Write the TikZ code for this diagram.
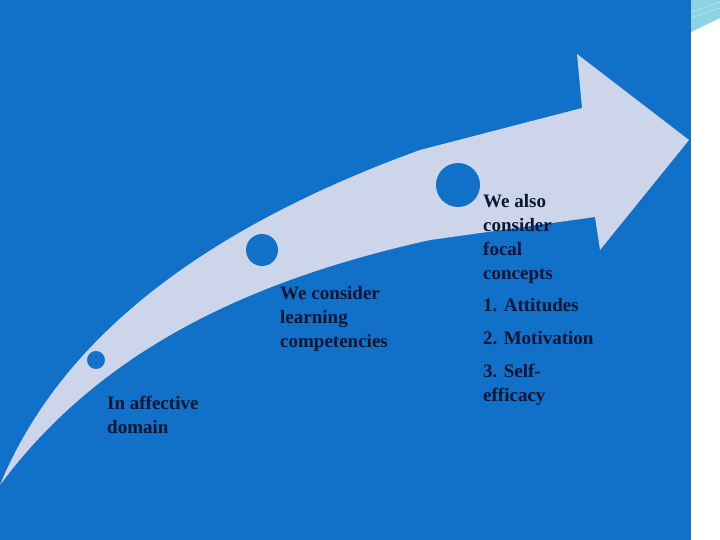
\documentclass[tikz,border=0pt]{standalone}
\usepackage{fontspec}
\setmainfont{Liberation Serif}
\begin{document}
\begin{tikzpicture}[x=1pt,y=-1pt,
  lbl/.style={anchor=north west,align=left,text=navy,font=\fontsize{19}{24}\selectfont\bfseries,inner sep=0pt},
  dot/.style={circle,fill=bg,inner sep=0pt}]
\definecolor{bg}{HTML}{1170C8}
\definecolor{arrowc}{HTML}{CDD5EA}
\definecolor{navy}{HTML}{0A1633}
\definecolor{teal}{HTML}{8CD3E3}
\useasboundingbox (0,0) rectangle (720,540);
\fill[bg] (0,0) rectangle (691,540);
\fill[white] (691,0) rectangle (720,540);
\fill[teal] (691,0) -- (720,0) -- (720,18) .. controls (705,25) .. (691,32) -- cycle;
\draw[white!60!teal] (691,12) -- (720,2) (691,18) -- (720,8);
\fill[arrowc] (0,485) .. controls (60,340) and (200,230) .. (420,150)
  -- (582,108) -- (577,54) -- (689,140) -- (600,250) -- (595,217)
  -- (430,240) .. controls (250,280) and (100,350) .. cycle;
\node[dot,minimum size=18pt] (c1) at (96,360) {};
\node[dot,minimum size=32pt] (c2) at (262,250) {};
\node[dot,minimum size=44pt] (c3) at (458,185) {};
\node[lbl] (t1) at (107,396) {In affective\\domain};
\node[lbl] (t2) at (280,286) {We consider\\learning\\competencies};
\node[lbl] (t3) at (483,194) {We also\\consider\\focal\\concepts};
\node[lbl] (t4) at (483,298) {1. Attitudes};
\node[lbl] (t5) at (483,331) {2. Motivation};
\node[lbl] (t6) at (483,364) {3. Self-\\efficacy};
\end{tikzpicture}
\end{document}
